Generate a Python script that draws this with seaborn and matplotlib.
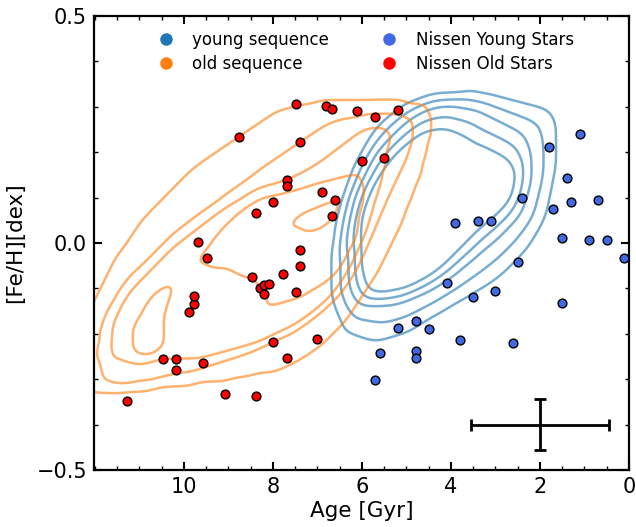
import numpy as np
import pandas as pd
import matplotlib
matplotlib.use("Agg")
import matplotlib.pyplot as plt
import seaborn as sns
from matplotlib.path import Path
from matplotlib.lines import Line2D
from matplotlib.ticker import MultipleLocator, FixedLocator
from seaborn._statistics import KDE

# ---------------- data ----------------
old_age = [11.28, 10.48, 10.18, 10.18, 9.58, 9.89, 9.78, 9.78, 9.69, 9.49, 9.08,
           8.77, 8.39, 8.39, 8.48, 8.30, 8.21, 8.19, 8.08, 7.78, 7.99, 7.99, 7.69,
           7.69, 7.69, 7.49, 7.40, 7.40, 7.40, 7.49, 7.00, 6.89, 6.80, 6.68, 6.60,
           6.68, 6.10, 5.99, 5.70, 5.50, 5.18]
old_feh = [-0.348, -0.256, -0.256, -0.280, -0.264, -0.152, -0.134, -0.117, 0.002,
           -0.033, -0.333, 0.233, 0.066, -0.337, -0.075, -0.099, -0.093, -0.112,
           -0.090, -0.068, 0.090, -0.218, -0.253, 0.139, 0.126, 0.306, 0.222,
           -0.015, -0.051, -0.108, -0.211, 0.112, 0.302, 0.295, 0.095, 0.060,
           0.291, 0.181, 0.278, 0.187, 0.293]

young_age = [1.10, 1.79, 1.39, 2.40, 1.70, 1.30, 0.70, 3.90, 3.39, 3.10, 1.50, 0.90,
             0.49, 0.11, 2.49, 4.08, 3.50, 3.01, 1.50, 5.18, 4.78, 4.49, 5.59, 4.78,
             4.78, 3.79, 2.60, 5.70]
young_feh = [0.240, 0.211, 0.143, 0.099, 0.075, 0.090, 0.095, 0.044, 0.048, 0.048,
             0.011, 0.007, 0.007, -0.033, -0.042, -0.088, -0.119, -0.106, -0.132,
             -0.187, -0.172, -0.189, -0.242, -0.238, -0.253, -0.214, -0.220, -0.302]

# outlines of the simulated populations (age, [Fe/H])
young_outline_1 = [(4.35, 0.330), (3.45, 0.333), (2.78, 0.319), (2.18, 0.304),
                   (1.73, 0.289), (1.62, 0.260), (1.66, 0.165), (1.88, 0.055),
                   (2.33, -0.020), (2.78, -0.064), (3.30, -0.099), (3.84, -0.130),
                   (4.35, -0.159), (4.96, -0.196), (5.70, -0.218), (6.37, -0.196),
                   (6.64, -0.130), (6.66, -0.020), (6.53, 0.068), (6.21, 0.165),
                   (5.70, 0.253), (5.09, 0.304)]
young_outline_2 = [(4.28, 0.304), (3.45, 0.297), (2.94, 0.267), (2.33, 0.238),
                   (2.22, 0.200), (2.18, 0.143), (2.40, 0.068), (2.85, 0.018),
                   (3.39, -0.026), (3.90, -0.070), (4.51, -0.108), (5.32, -0.137),
                   (6.08, -0.137), (6.30, -0.093), (6.33, 0.018), (6.15, 0.106),
                   (5.76, 0.187), (5.32, 0.238), (4.80, 0.282)]
young_outline_3 = [(4.19, 0.253), (3.84, 0.244), (3.45, 0.220), (3.07, 0.205),
                   (2.62, 0.178), (2.53, 0.150), (2.62, 0.099), (3.07, 0.055),
                   (3.52, 0.018), (3.97, -0.026), (4.35, -0.064), (4.96, -0.099),
                   (5.70, -0.115), (5.92, -0.099), (6.03, -0.055), (6.03, 0.055),
                   (5.76, 0.128), (5.41, 0.178), (4.96, 0.222), (4.58, 0.249)]

old_outline_1 = [(12.00, -0.126), (11.62, -0.044), (10.88, 0.057), (9.76, 0.167),
                 (8.79, 0.233), (7.90, 0.293), (6.77, 0.315), (5.27, 0.315),
                 (4.53, 0.300), (4.44, 0.249), (4.67, 0.154), (5.11, 0.044),
                 (5.65, -0.066), (6.39, -0.176), (7.13, -0.242), (7.90, -0.280),
                 (9.02, -0.302), (10.50, -0.319), (12.00, -0.330), (12.31, -0.291),
                 (12.36, -0.192)]
old_outline_2 = [(11.84, -0.308), (11.93, -0.236), (11.78, -0.163), (11.26, -0.075),
                 (10.14, 0.029), (9.02, 0.110), (7.90, 0.189), (6.77, 0.264),
                 (5.65, 0.289), (4.89, 0.278), (4.82, 0.242), (4.98, 0.189),
                 (5.43, 0.095), (5.88, 0.007), (6.33, -0.081), (6.91, -0.148),
                 (7.51, -0.192), (8.64, -0.242), (9.76, -0.280), (11.26, -0.313)]
old_outline_3 = [(11.62, -0.251), (9.76, -0.258), (8.25, -0.220), (7.36, -0.176),
                 (6.62, -0.119), (6.17, -0.053), (5.79, 0.057), (5.50, 0.167),
                 (5.34, 0.242), (5.50, 0.256), (6.01, 0.249), (6.77, 0.189),
                 (7.51, 0.145), (8.41, 0.117), (9.38, 0.057), (10.50, -0.031),
                 (11.33, -0.119), (11.62, -0.176)]
old_outline_4a = [(10.21, -0.086), (10.50, -0.176), (10.50, -0.236), (10.88, -0.264),
                  (11.17, -0.251), (11.10, -0.176), (10.65, -0.104)]
old_outline_4b = [(9.76, -0.044), (9.02, 0.044), (8.41, 0.095), (7.51, 0.117),
                  (6.10, 0.154), (5.94, 0.117), (6.10, 0.007), (6.62, -0.075),
                  (7.36, -0.119), (8.12, -0.143), (8.19, -0.104), (8.41, -0.081),
                  (9.02, -0.059)]
old_outline_5 = [(7.81, 0.044), (7.13, 0.022), (6.77, 0.035), (6.46, 0.095),
                 (6.62, 0.095), (7.13, 0.073), (7.51, 0.057)]

errbar_age, errbar_feh = 2.0, -0.40
errbar_dage, errbar_dfeh = 1.55, 0.056


def populate(outlines, step_age, step_feh):
    ages = np.arange(0.0, 13.0, step_age)
    fehs = np.arange(-0.5, 0.5, step_feh)
    A, F = np.meshgrid(ages, fehs)
    pts = np.column_stack([A.ravel(), F.ravel()])
    count = np.zeros(len(pts))
    for o in outlines:
        count += Path(o).contains_points(pts)
    keep = count > 0
    df = pd.DataFrame({"age": pts[keep, 0], "feh": pts[keep, 1], "w": count[keep]})
    df.attrs["cell"] = step_age * step_feh
    return df


def iso_props(df, bw, fractions):
    dens, _ = KDE(bw_method=bw)(df["age"].to_numpy(), df["feh"].to_numpy(),
                                weights=df["w"].to_numpy())
    unit = 1.0 / (df["w"].sum() * df.attrs["cell"])
    tot = dens.sum()
    props = [dens[dens < f * unit].sum() / tot for f in fractions]
    return sorted(props)


young_pop = populate([young_outline_1, young_outline_2, young_outline_3], 0.08, 0.008)
old_pop = populate([old_outline_1, old_outline_2, old_outline_3,
                    old_outline_4a, old_outline_4b, old_outline_5], 0.1, 0.01)

BW_YOUNG, BW_OLD = 0.16, 0.105
young_levels = iso_props(young_pop, BW_YOUNG, [0.5, 1.0, 1.5, 2.0, 2.5])
old_levels = iso_props(old_pop, BW_OLD, [0.5, 1.5, 2.5, 3.5, 4.5])

# ---------------- figure ----------------
sns.set_style("ticks", {"axes.edgecolor": "black", "text.color": "black",
                        "axes.labelcolor": "black", "xtick.color": "black",
                        "ytick.color": "black"})
plt.rcParams["font.family"] = ["DejaVu Sans"]

fig = plt.figure(figsize=(6.36, 5.27), dpi=100)
ax = fig.add_axes([94 / 636, 1 - 470 / 527, (629 - 94) / 636, (470 - 16) / 527])

sns.kdeplot(data=young_pop, x="age", y="feh", weights="w", bw_method=BW_YOUNG,
            levels=young_levels, color="tab:blue", alpha=0.6, linewidths=1.8, ax=ax)
sns.kdeplot(data=old_pop, x="age", y="feh", weights="w", bw_method=BW_OLD,
            levels=old_levels, color="tab:orange", alpha=0.6, linewidths=1.8, ax=ax)

sns.scatterplot(x=young_age, y=young_feh, color="royalblue", edgecolor="black",
                s=40, linewidth=1, zorder=3, legend=False, ax=ax)
sns.scatterplot(x=old_age, y=old_feh, color="red", edgecolor="black",
                s=40, linewidth=1, zorder=3, legend=False, ax=ax)

ax.errorbar(errbar_age, errbar_feh, xerr=errbar_dage, yerr=errbar_dfeh,
            color="black", lw=2, capsize=4, capthick=2, zorder=4)

ax.set_xlim(12.02, 0)
ax.set_ylim(-0.5, 0.5)
ax.xaxis.set_major_locator(FixedLocator([0, 2, 4, 6, 8, 10]))
ax.xaxis.set_minor_locator(MultipleLocator(0.5))
ax.yaxis.set_major_locator(MultipleLocator(0.5))
ax.yaxis.set_minor_locator(MultipleLocator(0.1))
ax.tick_params(which="both", direction="in", top=True, right=True)
ax.tick_params(which="major", length=6, width=1.5, labelsize=15, pad=5)
ax.tick_params(which="minor", length=3, width=1)
for s in ax.spines.values():
    s.set_linewidth(1.6)

ax.set_xlabel("Age [Gyr]", fontsize=15.5, labelpad=3)
ax.set_ylabel("[Fe/H][dex]", fontsize=15.5, labelpad=8)

handles = [
    Line2D([], [], marker="o", ls="", color="tab:blue", markersize=9, markeredgewidth=0),
    Line2D([], [], marker="o", ls="", color="tab:orange", markersize=9, markeredgewidth=0),
    Line2D([], [], marker="o", ls="", color="royalblue", markersize=9, markeredgewidth=0),
    Line2D([], [], marker="o", ls="", color="red", markersize=9, markeredgewidth=0),
]
labels = ["young sequence", "old sequence", "Nissen Young Stars", "Nissen Old Stars"]
ax.legend(handles, labels, loc="upper center", ncol=2, frameon=False, fontsize=12,
          columnspacing=2.6, handletextpad=0.6, labelspacing=0.35,
          bbox_to_anchor=(0.5, 1.0))

fig.savefig("out.png", dpi=100)
